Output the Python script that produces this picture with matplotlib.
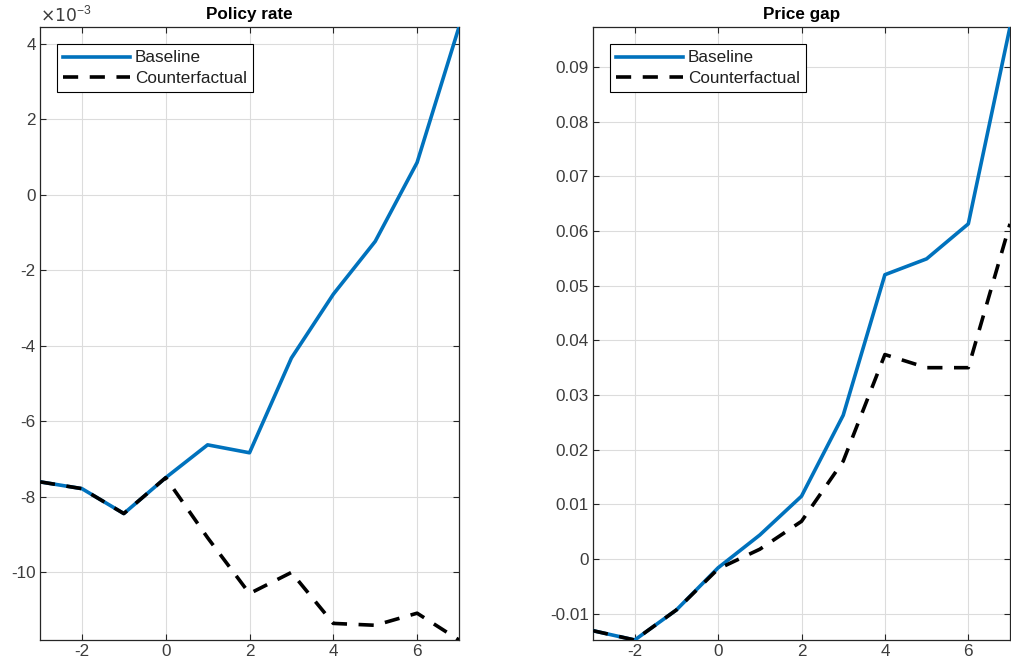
import matplotlib
matplotlib.use("Agg")
import matplotlib.pyplot as plt

plt.rcParams['font.family'] = ['Liberation Sans', 'DejaVu Sans']

horizon = [-3, -2, -1, 0, 1, 2, 3, 4, 5, 6, 7]

policy_baseline = [-7.61e-3, -7.79e-3, -8.45e-3, -7.50e-3, -6.63e-3, -6.84e-3,
                   -4.33e-3, -2.64e-3, -1.24e-3, 0.85e-3, 4.44e-3]
policy_counterfactual = [-7.61e-3, -7.79e-3, -8.45e-3, -7.50e-3, -9.09e-3, -10.57e-3,
                         -10.01e-3, -11.36e-3, -11.41e-3, -11.09e-3, -11.80e-3]

price_baseline = [-0.0131, -0.0148, -0.0093, -0.0016, 0.0044, 0.0115,
                  0.0263, 0.0520, 0.0549, 0.0613, 0.0973]
price_counterfactual = [-0.0131, -0.0148, -0.0093, -0.0018, 0.0018, 0.0069,
                        0.0179, 0.0374, 0.0350, 0.0350, 0.0613]

titles = ["Policy rate", "Price gap"]
legend_labels = ["Baseline", "Counterfactual"]
xtick_vals = [-2, 0, 2, 4, 6]
policy_ticks = [-10e-3, -8e-3, -6e-3, -4e-3, -2e-3, 0, 2e-3, 4e-3]
price_ticks = [-0.01, 0, 0.01, 0.02, 0.03, 0.04, 0.05, 0.06, 0.07, 0.08, 0.09]

blue = "#0072BD"
tick_color = "#262626"
label_color = "#3c3c3c"
FS = 12.3

fig = plt.figure(figsize=(10.11, 6.69), dpi=100)
W, H = 1011, 669
ax1 = fig.add_axes([40 / W, 1 - 640 / H, (459 - 40) / W, (640 - 27) / H])
ax2 = fig.add_axes([593 / W, 1 - 640 / H, (1010 - 593) / W, (640 - 27) / H])

for ax, base, cf, title in [(ax1, policy_baseline, policy_counterfactual, titles[0]),
                            (ax2, price_baseline, price_counterfactual, titles[1])]:
    ax.plot(horizon, base, color=blue, lw=2.6, label=legend_labels[0], zorder=3)
    ax.plot(horizon, cf, color='black', lw=2.6, dashes=(4.2, 3.2),
            label=legend_labels[1], zorder=4)
    ax.set_xlim(min(horizon), max(horizon))
    ymin = min(min(base), min(cf))
    ymax = max(max(base), max(cf))
    ax.set_ylim(ymin, ymax)
    ax.set_title(title, fontsize=FS, fontweight='bold', color='black', pad=6)
    ax.grid(True, color='#dcdcdc', lw=0.8)
    ax.set_axisbelow(True)
    ax.tick_params(direction='in', length=4, width=0.8, colors=tick_color,
                   labelsize=FS, top=True, right=True, labelcolor=label_color, pad=3)
    for s in ax.spines.values():
        s.set_color(tick_color)
        s.set_linewidth(0.9)
    ax.set_xticks(xtick_vals)
    ax.set_xticklabels([str(v) for v in xtick_vals])
    leg = ax.legend(loc='upper left', bbox_to_anchor=(0.04, 0.972),
                    handlelength=3.9, handletextpad=0.3, borderpad=0.37,
                    labelspacing=0.3, fontsize=FS, fancybox=False,
                    framealpha=1, edgecolor='black', borderaxespad=0)
    leg.get_frame().set_linewidth(0.8)
    for t in leg.get_texts():
        t.set_color('#202020')

ax1.set_yticks(policy_ticks)
ax1.set_yticklabels([f"{v*1e3:g}" for v in policy_ticks])
ax1.text(0.0, 1.005, r"$\times10^{\mathregular{-3}}$", transform=ax1.transAxes,
         ha='left', va='bottom', fontsize=FS, color=label_color)

ax2.set_yticks(price_ticks)
ax2.set_yticklabels([f"{v:g}" for v in price_ticks])

fig.savefig("out.png", dpi=100)
